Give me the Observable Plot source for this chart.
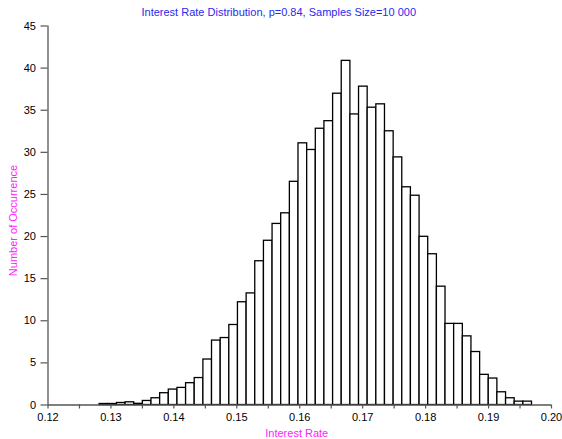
<!DOCTYPE html>
<html>
<head>
<meta charset="utf-8">
<script src="https://cdn.jsdelivr.net/npm/d3@7"></script>
<script src="https://cdn.jsdelivr.net/npm/@observablehq/plot@0.6"></script>
<style>
  html, body { margin: 0; padding: 0; background: #fff; }
  svg { display: block; }
</style>
</head>
<body>
<div id="chart"></div>
<script>
// Bin edges (interest rate), 50 bins
const binEdges = [
  0.12820, 0.12957, 0.13095, 0.13232, 0.13370, 0.13507, 0.13644, 0.13782, 0.13919, 0.14057,
  0.14194, 0.14331, 0.14469, 0.14606, 0.14744, 0.14881, 0.15018, 0.15156, 0.15293, 0.15431,
  0.15568, 0.15705, 0.15843, 0.15980, 0.16118, 0.16255, 0.16392, 0.16530, 0.16667, 0.16805,
  0.16942, 0.17079, 0.17217, 0.17354, 0.17492, 0.17629, 0.17766, 0.17904, 0.18041, 0.18179,
  0.18316, 0.18453, 0.18591, 0.18728, 0.18866, 0.19003, 0.19140, 0.19278, 0.19415, 0.19553,
  0.19690
];
// Number of occurrence (density) per bin
const occurrence = [
  0.12, 0.12, 0.24, 0.32, 0.14, 0.48, 0.80, 1.40, 1.83, 2.03,
  2.59, 3.20, 5.40, 7.65, 7.95, 9.50, 12.20, 13.25, 17.07, 19.50,
  21.50, 22.76, 26.50, 31.07, 30.28, 32.80, 33.70, 36.96, 40.86, 34.50,
  37.80, 35.30, 35.70, 32.50, 29.40, 25.85, 24.85, 19.97, 17.90, 14.05,
  9.63, 9.63, 8.15, 6.29, 3.58, 3.14, 1.51, 0.80, 0.40, 0.40
];
const xTicks = [0.12, 0.13, 0.14, 0.15, 0.16, 0.17, 0.18, 0.19, 0.20];
const xMinorTicks = [0.125, 0.135, 0.145, 0.155, 0.165, 0.175, 0.185, 0.195];
const yTicks = [0, 5, 10, 15, 20, 25, 30, 35, 40, 45];
const titleText = "Interest Rate Distribution, p=0.84, Samples Size=10 000";
const xLabel = "Interest Rate";
const yLabel = "Number of Occurrence";

const bins = occurrence.map((v, i) => ({x1: binEdges[i], x2: binEdges[i + 1], y: v}));

const axisColor = "#555";
const font = "Liberation Sans, Arial, Helvetica, sans-serif";

const chart = Plot.plot({
  width: 562,
  height: 439,
  marginLeft: 47.5,
  marginRight: 11,
  marginTop: 25.5,
  marginBottom: 34.5,
  style: {fontFamily: font, fontSize: "11px", color: "#000", background: "#fff"},
  x: {domain: [0.12, 0.20]},
  y: {domain: [0, 45]},
  marks: [
    Plot.rectY(bins, {x1: "x1", x2: "x2", y: "y", fill: "white", stroke: "black", strokeWidth: 1.3, insetLeft: 0, insetRight: 0}),
    Plot.ruleY([0], {stroke: axisColor, strokeWidth: 1.3}),
    Plot.ruleX([0.12], {y1: 0, y2: 45, stroke: axisColor, strokeWidth: 1.3}),
    Plot.axisX({ticks: xTicks, tickSize: 4, tickPadding: 4, stroke: axisColor, fill: "#000", tickFormat: d3.format(".2f"), label: null, strokeWidth: 1.2}),
    Plot.axisX({ticks: xMinorTicks, tickSize: 4, tickFormat: () => "", stroke: axisColor, label: null, strokeWidth: 1.2}),
    Plot.axisY({ticks: yTicks, tickSize: 7, tickPadding: 5, stroke: axisColor, fill: "#000", label: null, strokeWidth: 1.2}),
    Plot.text([titleText], {frameAnchor: "top", dx: -21, dy: -18, fill: "#2a2aee", fontSize: 11}),
    Plot.text([xLabel], {frameAnchor: "bottom", dx: -3, dy: 32, fill: "#ff22ff", fontSize: 11}),
    Plot.text([yLabel], {frameAnchor: "left", textAnchor: "middle", rotate: -90, dx: -35, dy: 5, fill: "#ff22ff", fontSize: 11})
  ]
});
document.getElementById("chart").appendChild(chart);
</script>
</body>
</html>
